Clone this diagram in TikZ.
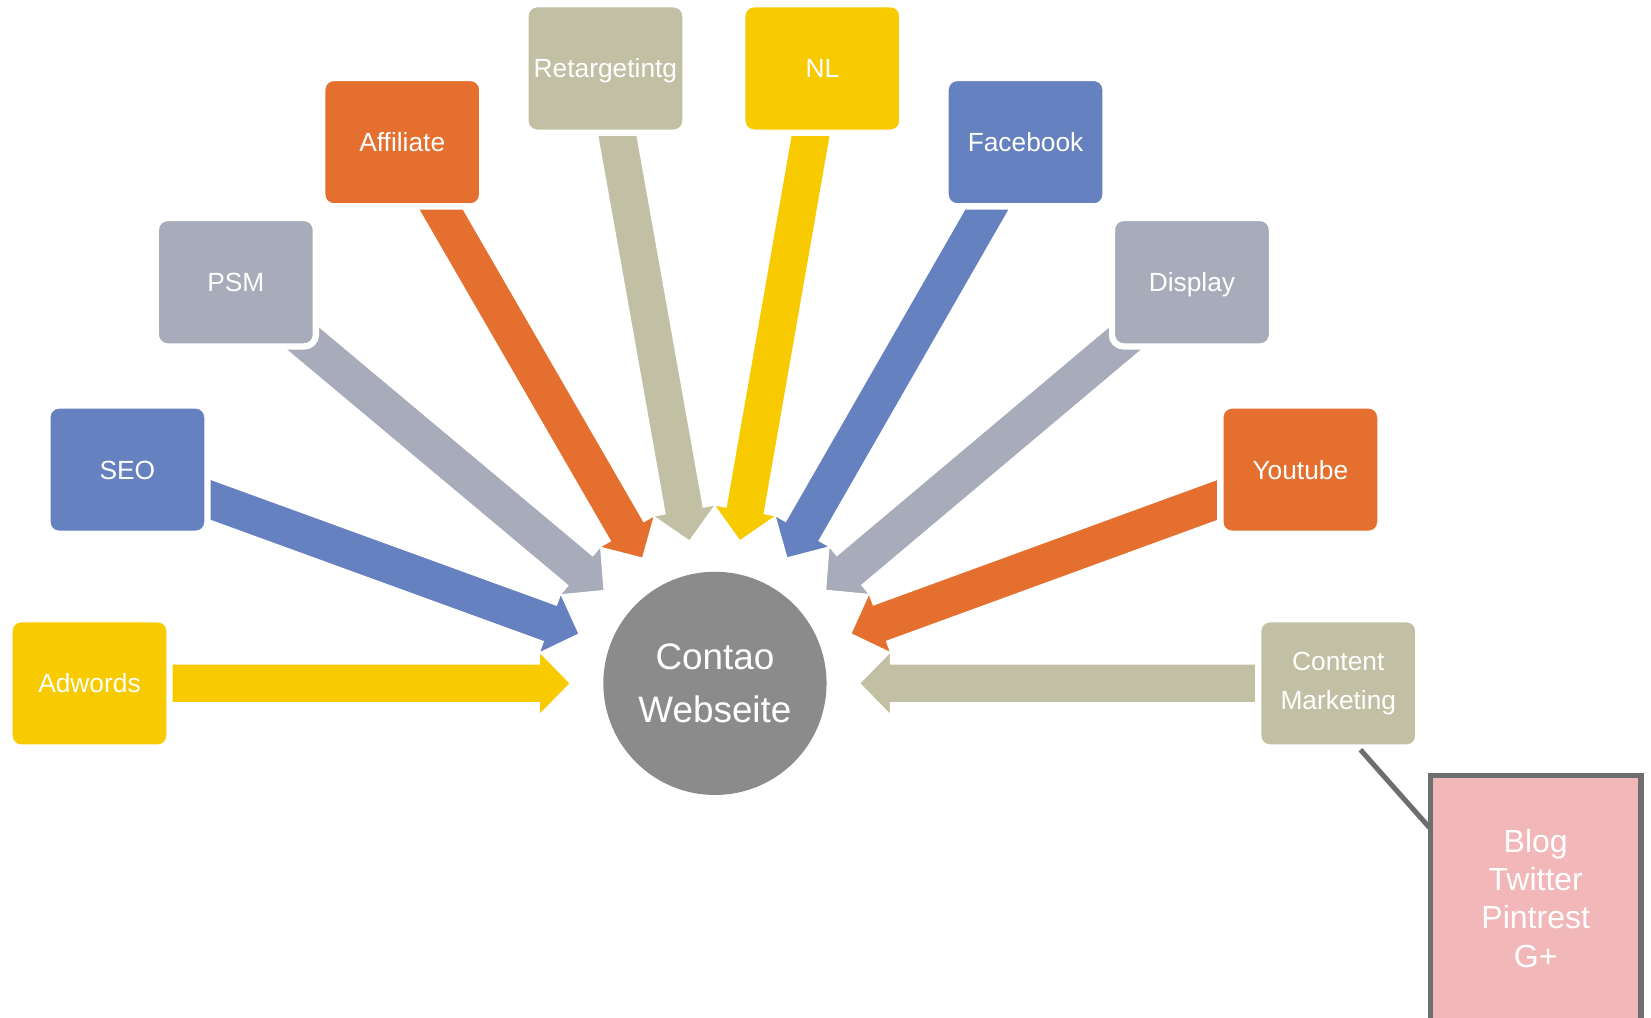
\documentclass[tikz,border=0pt]{standalone}
\usepackage{fontspec}
\setmainfont{Liberation Sans}
\usetikzlibrary{calc,backgrounds}
\definecolor{yellowC}{RGB}{247,203,0}
\definecolor{blueC}{RGB}{101,129,191}
\definecolor{grayC}{RGB}{168,171,185}
\definecolor{orangeC}{RGB}{228,111,46}
\definecolor{khakiC}{RGB}{193,191,164}
\definecolor{circleC}{RGB}{139,139,139}
\definecolor{pinkC}{RGB}{242,183,185}
\definecolor{borderC}{RGB}{110,110,110}
\newcommand\feeder[2]{%
  \path ($(web.center)!68.5pt!(#1.center)$) coordinate (T)
        ($(web.center)!83.5pt!(#1.center)$) coordinate (H);
  \filldraw[fill=#2, draw=white, line width=0.8pt, line join=miter]
    ($(#1.center)!9.3pt!-90:(web.center)$) --
    ($(H)!9.3pt!90:(#1.center)$) --
    ($(H)!15.3pt!90:(#1.center)$) --
    (T) --
    ($(H)!15.3pt!-90:(#1.center)$) --
    ($(H)!9.3pt!-90:(#1.center)$) --
    ($(#1.center)!9.3pt!90:(web.center)$) -- cycle;
}
\begin{document}
\begin{tikzpicture}[x=0.5pt,y=-0.5pt,
  boxbase/.style={draw=white, line width=3pt, rounded corners=5.5pt,
    minimum width=76pt, minimum height=61pt, inner sep=2pt, outer sep=0pt,
    text=white, font=\fontsize{12.5}{18.5}\selectfont},
  box/.style={boxbase, text height=9pt, text depth=0pt},
  hub/.style={circle, fill=circleC, minimum size=106pt, inner sep=0pt,
    text=white, align=center, font=\fontsize{17.5}{25}\selectfont},
  social/.style={rectangle, fill=pinkC, draw=borderC, line width=2.5pt,
    minimum width=100pt, minimum height=116.5pt, outer sep=0pt, inner sep=0pt,
    text=white, align=center, font=\fontsize{15.2}{18.2}\selectfont},
  link/.style={draw=borderC, line width=2.4pt}]
\useasboundingbox (0,0) rectangle (1568,966);
\clip (0,0) rectangle (1568,966);

\node[hub] (web) at (679,649) {Contao\\Webseite};

\node[box, fill=yellowC] (adw) at (85,649) {Adwords};
\node[box, fill=blueC] (seo) at (121,446) {SEO};
\node[box, fill=grayC] (psm) at (224,268) {PSM};
\node[box, fill=orangeC] (aff) at (382,135) {Affiliate};
\node[box, fill=khakiC] (ret) at (575,65) {Retargetintg};
\node[box, fill=yellowC] (nl) at (781,65) {NL};
\node[box, fill=blueC] (fb) at (974,135) {Facebook};
\node[box, fill=grayC] (disp) at (1132,268) {Display};
\node[box, fill=orangeC] (yt) at (1235,446) {Youtube};
\node[boxbase, fill=khakiC, align=center] (cm) at (1271,649) {\raisebox{-1.5pt}{Content}\\\raisebox{-1.5pt}{Marketing}};

\node[social] (soc) at (1458.5,853) {Blog\\Twitter\\Pintrest\\G+};
\draw[link] ($(cm.south)+(21,2)$) -- ($(soc.north west)+(0,50.5)$);

\begin{pgfonlayer}{background}
  \feeder{adw}{yellowC}
  \feeder{seo}{blueC}
  \feeder{psm}{grayC}
  \feeder{aff}{orangeC}
  \feeder{ret}{khakiC}
  \feeder{nl}{yellowC}
  \feeder{fb}{blueC}
  \feeder{disp}{grayC}
  \feeder{yt}{orangeC}
  \feeder{cm}{khakiC}
\end{pgfonlayer}
\end{tikzpicture}
\end{document}
